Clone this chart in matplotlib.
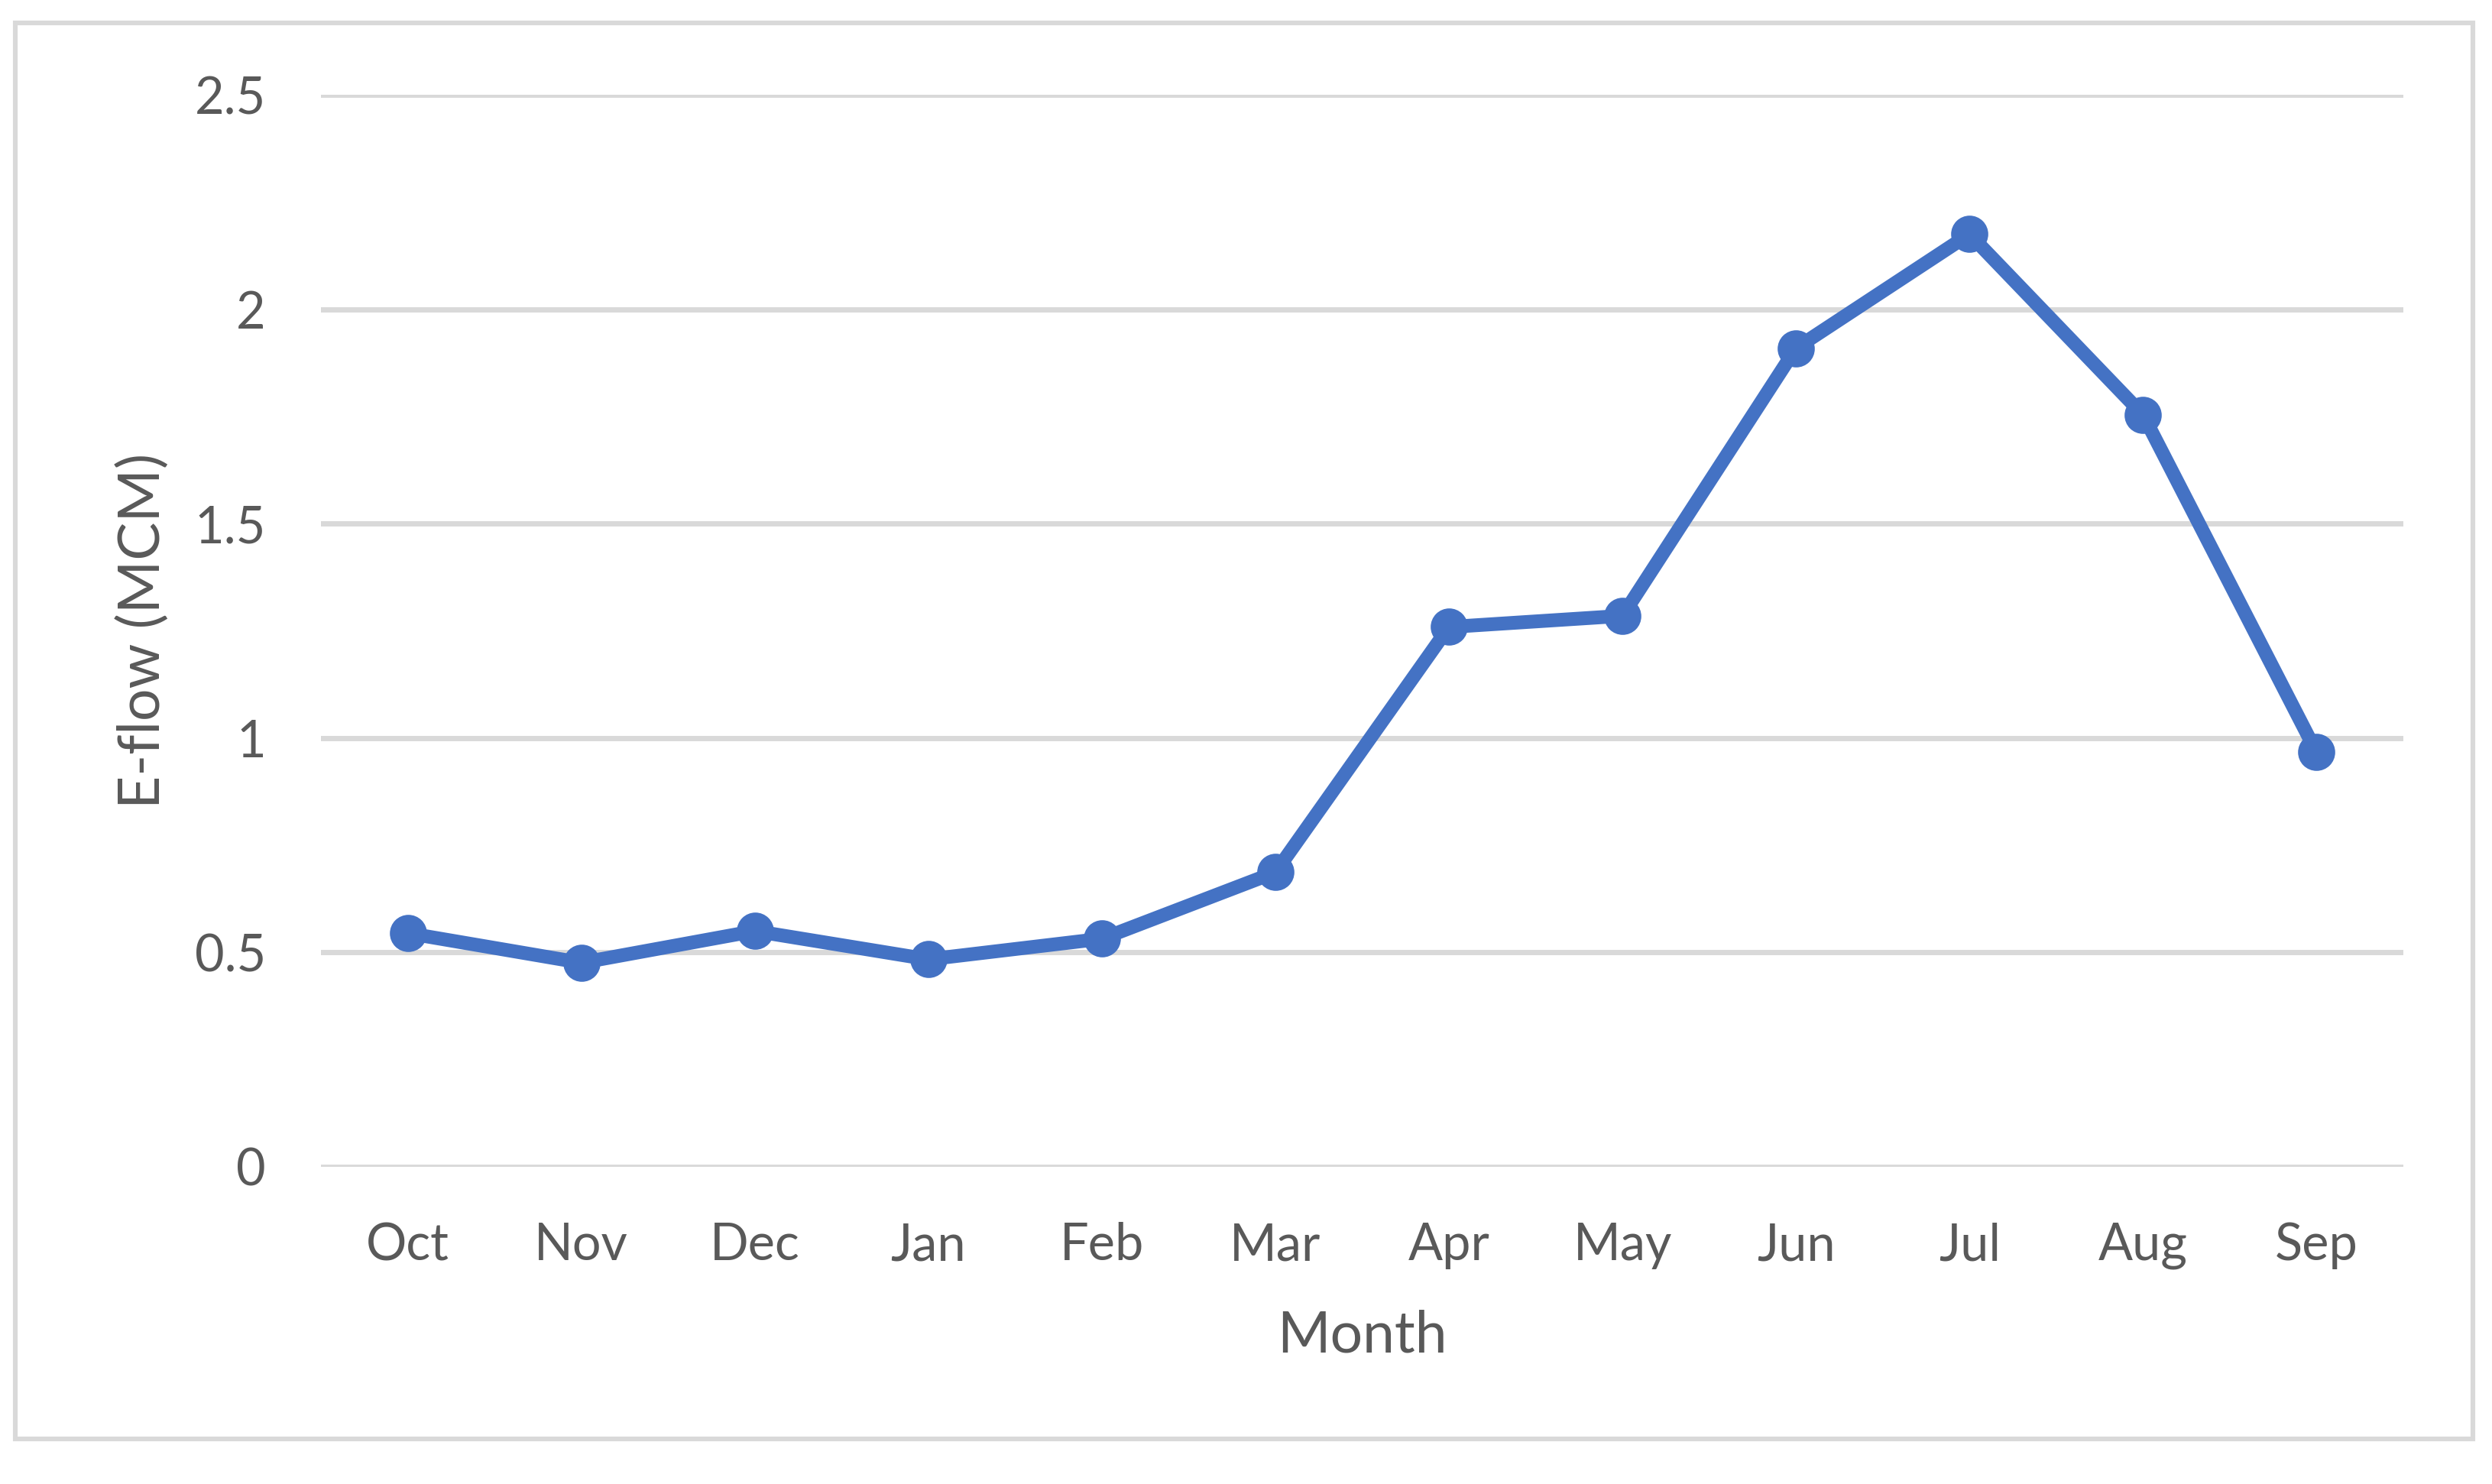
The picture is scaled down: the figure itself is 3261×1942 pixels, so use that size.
import matplotlib
matplotlib.use('Agg')
import matplotlib.pyplot as plt
from matplotlib.patches import Rectangle

months = ['Oct', 'Nov', 'Dec', 'Jan', 'Feb', 'Mar', 'Apr', 'May', 'Jun', 'Jul', 'Aug', 'Sep']
eflow = [0.545, 0.476, 0.55, 0.484, 0.532, 0.687, 1.259, 1.285, 1.909, 2.175, 1.754, 0.967]
yticks = [0, 0.5, 1, 1.5, 2, 2.5]
ytick_labels = ['0', '0.5', '1', '1.5', '2', '2.5']

text_color = '#595959'
grid_color = '#D9D9D9'
line_color = '#4472C4'

plt.rcParams['font.family'] = ['Lato', 'DejaVu Sans']

fig = plt.figure(figsize=(16.31, 9.71), dpi=200)
ax = fig.add_axes([0.1288, 0.2137, 0.8353, 0.7224])

x = list(range(len(months)))
ax.plot(x, eflow, color=line_color, linewidth=6.5, marker='o', markersize=16.5,
        solid_joinstyle='round', zorder=3)

ax.set_xlim(-0.5, len(months) - 0.5)
ax.set_ylim(0, 2.5)
ax.set_xticks(x)
ax.set_xticklabels(months)
ax.set_yticks(yticks)
ax.set_yticklabels(ytick_labels)

ax.grid(axis='y', color=grid_color, linewidth=2.5)
ax.set_axisbelow(True)
for s in ax.spines.values():
    s.set_visible(False)
ax.tick_params(axis='both', length=0, labelsize=24, labelcolor=text_color)
ax.tick_params(axis='y', pad=26)
ax.tick_params(axis='x', pad=26)

ax.set_xlabel('Month', fontsize=27, color=text_color)
ax.xaxis.set_label_coords(0.5, -0.1575)
ax.xaxis.label.set_va('center')
ax.set_ylabel('E-flow (MCM)', fontsize=27, color=text_color)
ax.yaxis.set_label_coords(-0.0855, 0.5)
ax.yaxis.label.set_va('center')

fig.patches.append(Rectangle((0.0061, 0.0304), 0.9859, 0.9542, transform=fig.transFigure,
                             fill=False, edgecolor=grid_color, linewidth=2.2))

fig.savefig('out.png', dpi=200, facecolor='white')
